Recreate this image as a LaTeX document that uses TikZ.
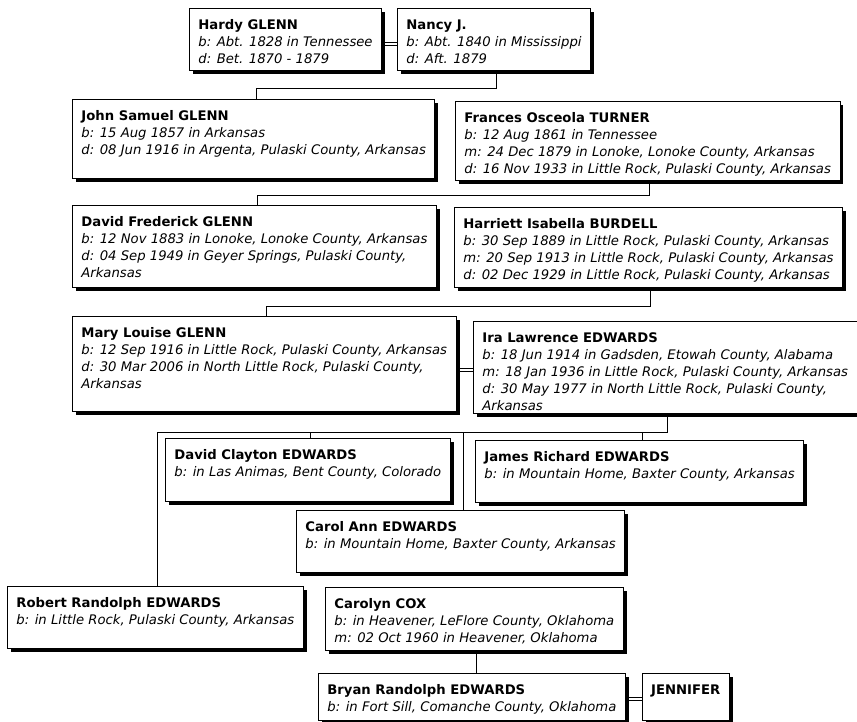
\documentclass[tikz,border=0pt]{standalone}
\usepackage{fontspec}
\setmainfont{DejaVu Sans}
\usetikzlibrary{shadows,backgrounds}
\tikzset{
  pbox/.style={draw=black, line width=0.8pt, fill=white, anchor=north west,
    inner xsep=9pt, inner ysep=0pt,
    general shadow={fill=black, shadow xshift=3.5pt, shadow yshift=-3.5pt}},
  link/.style={draw=black, line width=0.6pt},
  marr/.style={draw=black, double=white, double distance=2.2pt, line width=0.6pt},
}
\newcommand{\nm}[1]{\textbf{#1}}
\newcommand{\ev}[1]{\textit{#1}}
\newcommand{\pbody}[2]{\vbox to #1pt{\vskip 9pt\hbox{\fontsize{13.2}{17}\selectfont\begin{tabular}[t]{@{}l@{}}#2\end{tabular}}\vss}}
\begin{document}
\begin{tikzpicture}[x=1pt,y=-1pt]
\useasboundingbox (0,0) rectangle (857,721);
% persons
\node[pbox] (hardy) at (189,8) {\pbody{62}{\nm{Hardy GLENN}\\\ev{b: Abt. 1828 in Tennessee}\\\ev{d: Bet. 1870 - 1879}}};
\node[pbox] (nancy) at (397,8) {\pbody{62}{\nm{Nancy J.}\\\ev{b: Abt. 1840 in Mississippi}\\\ev{d: Aft. 1879}}};
\node[pbox] (john) at (72,99) {\pbody{79}{\nm{John Samuel GLENN}\\\ev{b: 15 Aug 1857 in Arkansas}\\\ev{d: 08 Jun 1916 in Argenta, Pulaski County, Arkansas}}};
\node[pbox] (frances) at (455,101) {\pbody{79}{\nm{Frances Osceola TURNER}\\\ev{b: 12 Aug 1861 in Tennessee}\\\ev{m: 24 Dec 1879 in Lonoke, Lonoke County, Arkansas}\\\ev{d: 16 Nov 1933 in Little Rock, Pulaski County, Arkansas}}};
\node[pbox] (david) at (72,205) {\pbody{82}{\nm{David Frederick GLENN}\\\ev{b: 12 Nov 1883 in Lonoke, Lonoke County, Arkansas}\\\ev{d: 04 Sep 1949 in Geyer Springs, Pulaski County,}\\\ev{Arkansas}}};
\node[pbox] (harriett) at (454,207) {\pbody{80}{\nm{Harriett Isabella BURDELL}\\\ev{b: 30 Sep 1889 in Little Rock, Pulaski County, Arkansas}\\\ev{m: 20 Sep 1913 in Little Rock, Pulaski County, Arkansas}\\\ev{d: 02 Dec 1929 in Little Rock, Pulaski County, Arkansas}}};
\node[pbox] (mary) at (72,316) {\pbody{95}{\nm{Mary Louise GLENN}\\\ev{b: 12 Sep 1916 in Little Rock, Pulaski County, Arkansas}\\\ev{d: 30 Mar 2006 in North Little Rock, Pulaski County,}\\\ev{Arkansas}}};
\node[pbox] (ira) at (473,321) {\pbody{92}{\nm{Ira Lawrence EDWARDS}\\\ev{b: 18 Jun 1914 in Gadsden, Etowah County, Alabama}\\\ev{m: 18 Jan 1936 in Little Rock, Pulaski County, Arkansas}\\\ev{d: 30 May 1977 in North Little Rock, Pulaski County,}\\\ev{Arkansas}}};
\node[pbox] (dclay) at (165,438) {\pbody{63}{\nm{David Clayton EDWARDS}\\\ev{b: in Las Animas, Bent County, Colorado}}};
\node[pbox] (james) at (475,440) {\pbody{62}{\nm{James Richard EDWARDS}\\\ev{b: in Mountain Home, Baxter County, Arkansas}}};
\node[pbox] (carol) at (296,510) {\pbody{62}{\nm{Carol Ann EDWARDS}\\\ev{b: in Mountain Home, Baxter County, Arkansas}}};
\node[pbox] (robert) at (7,586) {\pbody{62}{\nm{Robert Randolph EDWARDS}\\\ev{b: in Little Rock, Pulaski County, Arkansas}}};
\node[pbox] (carolyn) at (325,587) {\pbody{63}{\nm{Carolyn COX}\\\ev{b: in Heavener, LeFlore County, Oklahoma}\\\ev{m: 02 Oct 1960 in Heavener, Oklahoma}}};
\node[pbox] (bryan) at (318,673) {\pbody{47}{\nm{Bryan Randolph EDWARDS}\\\ev{b: in Fort Sill, Comanche County, Oklahoma}}};
\node[pbox] (jennifer) at ([xshift=16pt]bryan.north east) {\pbody{47}{\nm{JENNIFER}}};
% connectors
\begin{pgfonlayer}{background}
\draw[link] ([xshift=2pt]nancy.south) |- ([shift={(2.5pt,11pt)}]john.north) -- ([xshift=2.5pt]john.north);
\draw[link] ([xshift=2pt]frances.south) |- ([shift={(2.5pt,10pt)}]david.north) -- ([xshift=2.5pt]david.north);
\draw[link] ([xshift=2pt]harriett.south) |- ([shift={(2.5pt,10pt)}]mary.north) -- ([xshift=2.5pt]mary.north);
\path ([xshift=2pt]ira.south) coordinate (iras)
      ([xshift=2.5pt]robert.north) coordinate (rn)
      ([xshift=2.5pt]dclay.north) coordinate (dn)
      ([xshift=2.5pt]carol.north) coordinate (cn)
      ([xshift=2.5pt]james.north) coordinate (jn)
      ([xshift=2pt]carolyn.south) coordinate (cys);
\coordinate (bar) at (0,432);
\draw[link] (iras) -- (iras |- bar) -- (rn |- bar) -- (rn);
\draw[link] (dn |- bar) -- (dn);
\draw[link] (cn |- bar) -- (cn);
\draw[link] (jn |- bar) -- (jn);
\draw[link] (cys) -- (cys |- bryan.north);
% marriage lines
\path ([yshift=-4.5pt]hardy.east) coordinate (m1)
      ([yshift=-4.5pt]john.east) coordinate (m2)
      ([yshift=-3pt]david.east) coordinate (m3)
      ([yshift=-6pt]mary.east) coordinate (m4)
      ([yshift=-5pt]robert.east) coordinate (m5)
      ([yshift=-2pt]bryan.east) coordinate (m6);
\draw[marr] (m1) -- (m1 -| nancy.west);
\draw[marr] (m2) -- (m2 -| frances.west);
\draw[marr] (m3) -- (m3 -| harriett.west);
\draw[marr] (m4) -- (m4 -| ira.west);
\draw[marr] (m5) -- (m5 -| carolyn.west);
\draw[marr] (m6) -- (m6 -| jennifer.west);
\end{pgfonlayer}
\end{tikzpicture}
\end{document}
